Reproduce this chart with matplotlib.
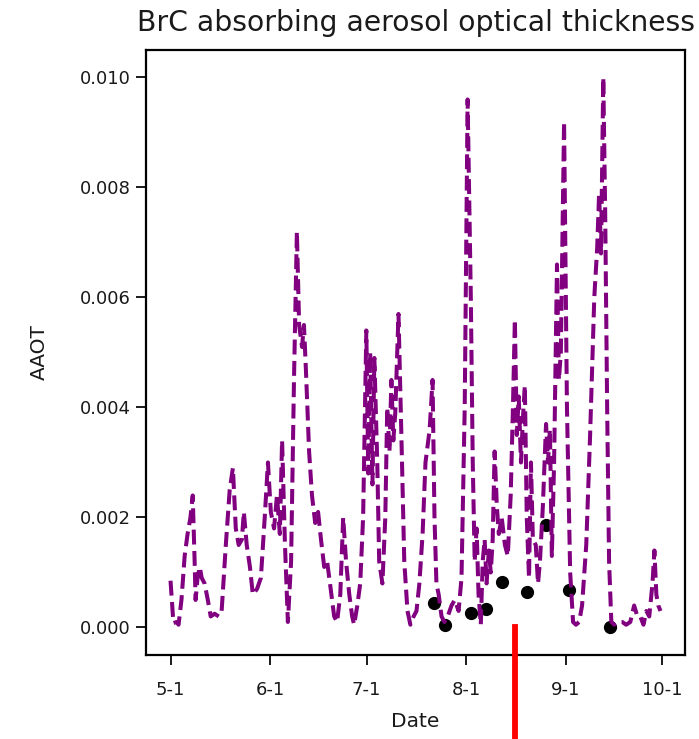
import numpy as np
import pandas as pd
import matplotlib
matplotlib.use("Agg")
import matplotlib.pyplot as plt
import matplotlib.dates as mdates
from matplotlib.ticker import FuncFormatter

# days since May 1 and BrC AAOT
line_days = [
    0.0, 0.9, 1.9, 2.5, 3.4, 4.4, 5.3, 6.2, 6.9, 7.5, 7.8, 8.4, 9.1, 9.7, 10.6,
    11.6, 12.5, 13.7, 15.0, 15.9, 17.2, 18.4, 19.4, 20.3, 21.2, 22.2, 22.8, 23.7,
    24.7, 25.6, 26.9, 28.1, 29.3, 30.3, 31.2, 32.2, 33.1, 34.0, 34.7, 35.6, 36.5,
    37.5, 38.4, 39.3, 40.0, 40.9, 41.5, 42.1, 43.1, 44.0, 45.0, 45.9, 46.8, 47.8,
    48.7, 49.6, 50.9, 51.8, 52.8, 53.7, 54.6, 55.6, 56.5, 57.1, 58.1, 59.0, 59.9,
    60.9, 61.5, 62.1, 62.8, 63.4, 64.3, 64.9, 65.9, 66.8, 67.4, 68.1, 68.7, 69.3,
    69.9, 70.9, 71.8, 72.7, 73.7, 74.6, 75.6, 76.5, 77.4, 78.4, 79.3, 80.6, 81.5,
    82.1, 82.7, 83.4, 84.3, 85.2, 86.2, 87.4, 88.4, 89.6, 90.5, 91.5, 92.4, 93.4,
    94.0, 94.6, 95.2, 95.8, 96.5, 97.1, 97.7, 98.3, 99.0, 99.6, 100.2, 100.8,
    101.5, 102.1, 103.0, 104.0, 104.9, 105.8, 106.5, 107.1, 107.7, 108.3, 109.0,
    109.6, 110.2, 110.8, 111.5, 112.1, 112.7, 113.6, 114.3, 114.9, 115.8, 116.8,
    117.4, 118.0, 118.6, 119.3, 120.2, 120.8, 121.4, 122.4, 123.3, 124.3, 125.2,
    126.1, 127.1, 128.0, 129.3, 130.5, 131.8, 132.7, 133.3, 133.9, 134.6, 135.2,
    135.8, 136.4, 137.1, 138.0, 139.2, 140.5, 141.7, 143.0, 144.2, 145.2, 146.1,
    147.1, 148.0, 148.9, 149.9, 150.5, 151.1, 151.7, 152.4,
]
line_aaot = [
    0.00085, 0.00008, 0.0001, 0.00005, 0.0005, 0.0013, 0.0017, 0.0020, 0.0024,
    0.0012, 0.0005, 0.0009, 0.0011, 0.0009, 0.0008, 0.0005, 0.0002, 0.00025,
    0.0002, 0.0003, 0.0015, 0.0025, 0.0029, 0.0018, 0.0015, 0.0016, 0.0021,
    0.0015, 0.0011, 0.0006, 0.0007, 0.0009, 0.0020, 0.0030, 0.0021, 0.0018,
    0.0024, 0.0017, 0.0034, 0.0015, 0.0001, 0.0012, 0.0045, 0.0072, 0.0055,
    0.0051, 0.0055, 0.0047, 0.0032, 0.0024, 0.0019, 0.0021, 0.0016, 0.0011,
    0.0012, 0.0008, 0.0002, 0.0001, 0.0006, 0.0020, 0.0012, 0.0006, 0.0002,
    0.00005, 0.0004, 0.0008, 0.0020, 0.0054, 0.0028, 0.0050, 0.0026, 0.0049,
    0.0030, 0.0012, 0.0008, 0.0020, 0.0040, 0.0032, 0.0045, 0.0034, 0.0039,
    0.0057, 0.0035, 0.0012, 0.0003, 0.00005, 0.0002, 0.0003, 0.0008, 0.0017,
    0.0030, 0.0036, 0.0045, 0.0020, 0.0008, 0.0006, 0.0002, 0.0001, 0.0002,
    0.0004, 0.0005, 0.0003, 0.0009, 0.0040, 0.0096, 0.0060, 0.0030, 0.0012,
    0.0018, 0.0006, 0.00005, 0.0012, 0.0016, 0.0008, 0.0014, 0.0010, 0.0016,
    0.0032, 0.0022, 0.0017, 0.0020, 0.0015, 0.0013, 0.0024, 0.0040, 0.0056,
    0.0035, 0.0042, 0.0030, 0.0038, 0.0044, 0.0020, 0.0009, 0.0030, 0.0016,
    0.0015, 0.0008, 0.0012, 0.0022, 0.0037, 0.0030, 0.0036, 0.0013, 0.0030,
    0.0066, 0.0045, 0.0050, 0.0092, 0.0040, 0.0010, 0.0001, 0.00005, 0.0001,
    0.0004, 0.0015, 0.0035, 0.0060, 0.0069, 0.0079, 0.0068, 0.0100, 0.0075,
    0.0040, 0.0012, 0.0001, 0.00005, 0.0001, 0.0001, 0.00005, 0.0001, 0.0004,
    0.0002, 0.0002, 0.00005, 0.0003, 0.0002, 0.0008, 0.0014, 0.0006, 0.0004,
    0.0003,
]

# observation points (black dots)
obs_days = [82.1, 85.5, 93.4, 98.0, 103.0, 110.8, 116.8, 123.9, 136.7]
obs_aaot = [0.00044, 0.00005, 0.00027, 0.00034, 0.00082, 0.00065, 0.00187,
            0.00069, 0.0]

# red marker hanging below the axis
event_day = 107.1
event_range = [0.0, -0.0025]

START = pd.Timestamp("2018-05-01")


def to_dates(days):
    return START + pd.to_timedelta(np.asarray(days), unit="D")


def month_day(x, pos=None):
    d = mdates.num2date(x)
    return f"{d.month}-{d.day}"


fig = plt.figure(figsize=(6.99, 7.39), dpi=100)
ax = fig.add_axes([0.2089, 0.1137, 0.7711, 0.8187])

ax.plot(to_dates(obs_days), obs_aaot, "o", color="black", markersize=8.5,
        zorder=2)
ax.plot(to_dates(line_days), line_aaot, "--", color="purple", linewidth=2.9,
        zorder=3)

# freeze the limits from the data before drawing the red marker
ax.set_xlim(ax.get_xlim())
ax.set_ylim(ax.get_ylim())
ax.set_autoscale_on(False)

ev = to_dates([event_day, event_day])
ax.plot(ev, event_range, color="red", linewidth=4.2, clip_on=False, zorder=4)

ax.xaxis.set_major_locator(mdates.MonthLocator())
ax.xaxis.set_major_formatter(FuncFormatter(month_day))
ax.set_yticks([0.0, 0.002, 0.004, 0.006, 0.008, 0.010])
ax.yaxis.set_major_formatter(FuncFormatter(lambda v, p: f"{v:.3f}"))

ax.tick_params(labelsize=13, length=7, width=1.4, colors="#1a1a1a")
ax.tick_params(axis="x", pad=12)
ax.tick_params(axis="y", pad=4)
for sp in ax.spines.values():
    sp.set_linewidth(1.6)

ax.set_xlabel("Date", fontsize=14.5, color="#1a1a1a", labelpad=9)
ax.set_ylabel("AAOT", fontsize=14.5, color="#1a1a1a", labelpad=22)
ax.set_title("BrC absorbing aerosol optical thickness", fontsize=20.3,
             pad=14, color="#1a1a1a")

fig.savefig("out.png", dpi=100)
